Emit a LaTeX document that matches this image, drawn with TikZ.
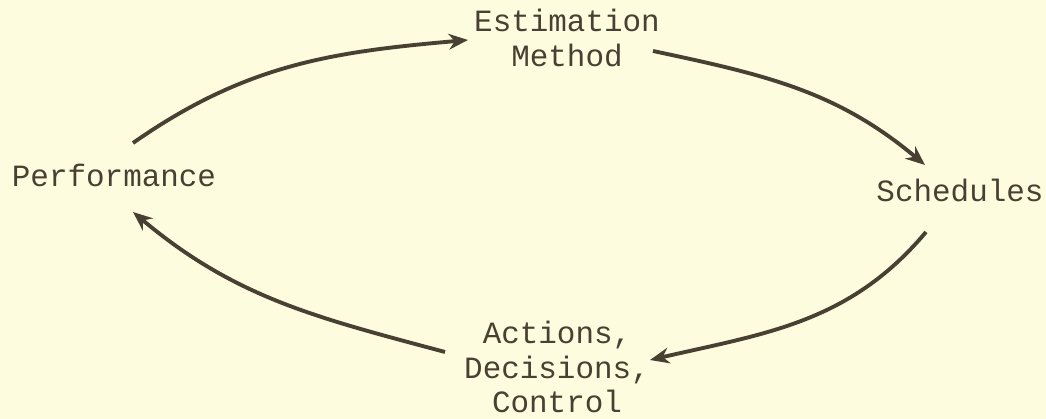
\documentclass[tikz,border=0pt]{standalone}
\usepackage{fontspec}
\setmonofont{Liberation Mono}
\usepackage{tikz}
\usetikzlibrary{arrows.meta,positioning}
\definecolor{paper}{RGB}{253,252,222}
\definecolor{ink}{RGB}{72,64,50}
\tikzstyle{word} = [font=\ttfamily\fontsize{17.6}{19.6}\selectfont,
    text=ink, align=center, inner sep=0pt]
\tikzstyle{arrow} = [line width=2.2pt, draw=ink, ->,
    >={Stealth[length=11pt,width=9pt]}]

\begin{document}
\begin{tikzpicture}
        \fill [paper] (0,0) rectangle (20.92,8.38);
        \useasboundingbox (0,0) rectangle (20.92,8.38);
        \node (est) [word] at (11.34,7.62) {Estimation\\Method};
        \node (perf) [word, anchor=base] at (2.28,4.64) {Performance};
        \node (sched) [word, anchor=base] at (19.2,4.34) {Schedules};
        \node (act) [word] at (11.14,1.04) {Actions,\\Decisions,\\Control};
        \draw [arrow] ([shift={(0.38,0.88)}]perf.base) to[out=35, in=185] ([shift={(-1.98,-0.04)}]est.center);
        \draw [arrow] ([shift={(1.72,-0.26)}]est.center) to[out=-12, in=140] ([shift={(-0.70,0.74)}]sched.base);
        \draw [arrow] ([shift={(-0.68,-0.60)}]sched.base) to[out=-130, in=13] ([shift={(1.86,0.14)}]act.center);
        \draw [arrow] ([shift={(-2.24,0.30)}]act.center) to[out=165, in=-40] ([shift={(0.38,-0.50)}]perf.base);
    \end{tikzpicture}
\end{document}
